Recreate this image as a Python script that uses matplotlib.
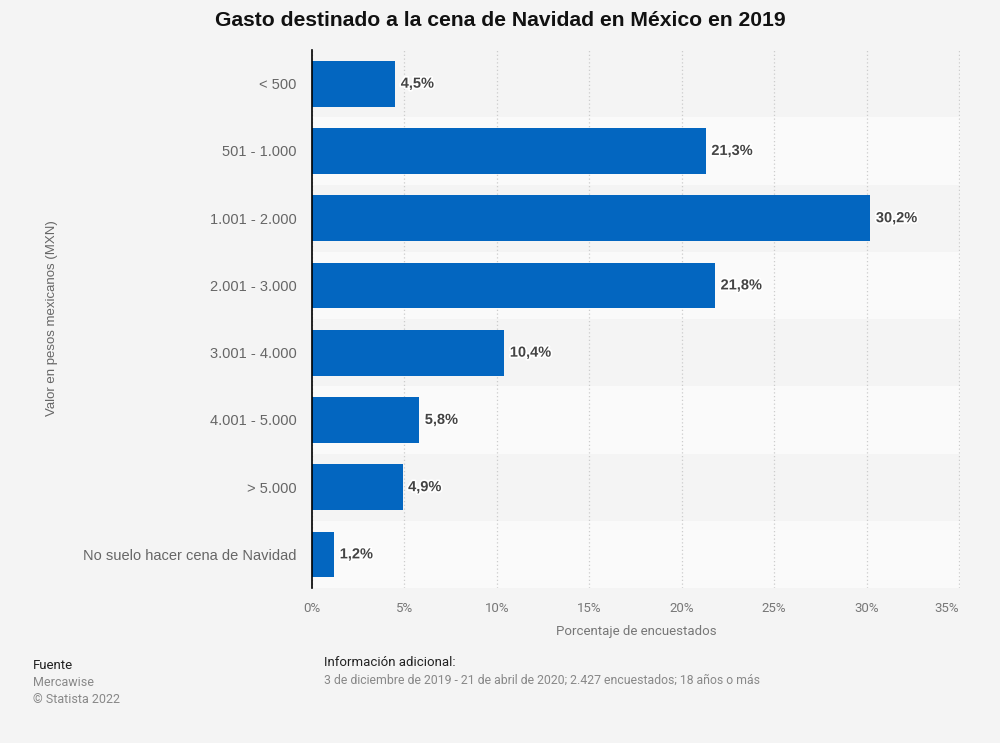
import matplotlib
matplotlib.use("Agg")
import matplotlib.pyplot as plt
import matplotlib.patheffects as pe

categories = ["< 500", "501 - 1.000", "1.001 - 2.000", "2.001 - 3.000",
              "3.001 - 4.000", "4.001 - 5.000", "> 5.000",
              "No suelo hacer cena de Navidad"]
values = [4.5, 21.3, 30.2, 21.8, 10.4, 5.8, 4.9, 1.2]
xticks = [0, 5, 10, 15, 20, 25, 30, 35]

BG = "#f4f4f4"
BAR = "#0366c0"
NARROW = ["Roboto", "DejaVu Sans"]

plt.rcParams["font.family"] = ["Liberation Sans", "DejaVu Sans"]

fig = plt.figure(figsize=(10, 7.43), dpi=100, facecolor=BG)
ax = fig.add_axes([0.312, 0.2086, 0.648, 0.724])
ax.set_facecolor(BG)

n = len(categories)
ypos = list(range(n))
for i in ypos:
    ax.axhspan(i - 0.5, i + 0.5, color=BG if i % 2 == 0 else "#fafafa", zorder=0, lw=0)

ax.barh(ypos, values, height=0.68, color=BAR, zorder=3)
for y, v in zip(ypos, values):
    ax.text(v + 0.3, y, f"{v:.1f}%".replace(".", ","), va="center", ha="left",
            fontsize=10.5, fontweight="bold", color="#444444", zorder=4,
            path_effects=[pe.withStroke(linewidth=2.5, foreground="white")])

ax.set_xlim(0, 35.05)
ax.set_ylim(n - 0.5, -0.5)
ax.set_xticks(xticks)
ax.set_xticklabels([f"{t}%" for t in xticks], color="#777777", fontsize=9.5,
                   family=NARROW)
ax.get_xticklabels()[-1].set_ha("right")
ax.set_yticks(ypos)
ax.set_yticklabels(categories, color="#666666", fontsize=10.5)
ax.tick_params(axis="both", length=0)
ax.tick_params(axis="x", pad=10)
ax.tick_params(axis="y", pad=11)

ax.grid(axis="x", color="#cccccc", linestyle=(0, (1, 2)), linewidth=0.9, zorder=1)
ax.set_axisbelow(True)
for s in ["top", "right", "bottom"]:
    ax.spines[s].set_visible(False)
ax.spines["left"].set_color("#000000")
ax.spines["left"].set_linewidth(1.2)
ax.spines["left"].set_zorder(5)

ax.set_xlabel("Porcentaje de encuestados", color="#777777", fontsize=9.5,
              family=NARROW, labelpad=7)
fig.text(0.052, 0.572, "Valor en pesos mexicanos (MXN)", rotation=90,
         ha="center", va="center", color="#666666", fontsize=9.5)

fig.text(0.5, 0.972, "Gasto destinado a la cena de Navidad en México en 2019",
         ha="center", va="center", fontsize=15.2, fontweight="bold", color="#111111")

fig.text(0.033, 0.104, "Fuente", fontsize=9.5, color="#222222", va="center", family=NARROW)
fig.text(0.033, 0.081, "Mercawise", fontsize=9, color="#888888", va="center", family=NARROW)
fig.text(0.033, 0.059, "© Statista 2022", fontsize=9, color="#888888", va="center", family=NARROW)
fig.text(0.324, 0.108, "Información adicional:", fontsize=9.5, color="#222222", va="center",
         family=NARROW)
fig.text(0.324, 0.085, "3 de diciembre de 2019 - 21 de abril de 2020; 2.427 encuestados; 18 años o más",
         fontsize=8.8, color="#888888", va="center", family=NARROW)

fig.savefig("out.png", dpi=100, facecolor=BG)
